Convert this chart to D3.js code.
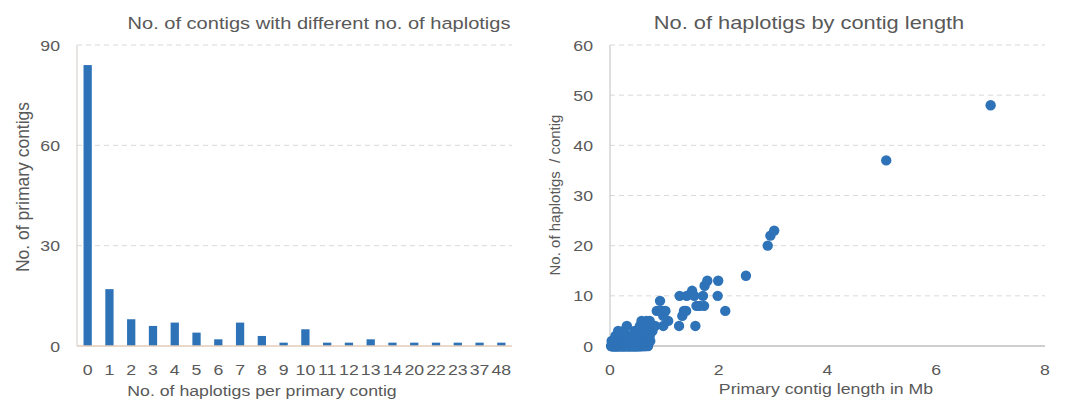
<!DOCTYPE html>
<html>
<head>
<meta charset="utf-8">
<script src="https://cdn.jsdelivr.net/npm/d3@7"></script>
<style>
  body { margin: 0; background: #fff; }
  svg { display: block; font-family: "Liberation Sans", Arial, sans-serif; }
</style>
</head>
<body>
<svg id="chart" width="1075" height="403"></svg>
<script>
// bar chart: how many primary contigs carry N haplotigs
const haplotigCounts = ["0","1","2","3","4","5","6","7","8","9","10","11","12","13","14","20","22","23","37","48"];
const contigCounts   = [84, 17, 8, 6, 7, 4, 2, 7, 3, 1, 5, 1, 1, 2, 1, 1, 1, 1, 1, 1];
const barTicks = [0, 30, 60, 90];

// scatter: contig lengths (Mb) grouped by their haplotig count (same order as haplotigCounts)
const contigLengths = [
  [0.02,0.03,0.04,0.05,0.06,0.07,0.08,0.09,0.10,0.11,0.12,0.13,0.14,0.15,0.16,0.17,0.18,0.19,0.20,0.21,
   0.22,0.23,0.24,0.25,0.26,0.27,0.28,0.29,0.30,0.31,0.32,0.33,0.34,0.35,0.36,0.37,0.38,0.39,0.40,0.41,
   0.42,0.43,0.44,0.45,0.46,0.47,0.48,0.49,0.50,0.51,0.52,0.53,0.54,0.55,0.56,0.57,0.58,0.60,0.62,0.64,
   0.05,0.08,0.11,0.14,0.18,0.22,0.26,0.30,0.34,0.38,0.42,0.46,0.50,0.03,0.06,0.09,0.12,0.15,0.20,0.25,
   0.35,0.45,0.66,0.70],
  [0.03,0.06,0.10,0.14,0.18,0.22,0.26,0.30,0.34,0.38,0.42,0.46,0.52,0.58,0.64,0.70,0.74],
  [0.10,0.18,0.25,0.33,0.45,0.55,0.66,0.73],
  [0.15,0.25,0.45,0.60,0.72,0.78],
  [0.31,0.55,0.68,0.83,0.98,1.27,1.57],
  [0.58,0.67,0.73,1.07],
  [0.98,1.33],
  [0.86,0.92,0.96,1.02,1.36,1.40,2.12],
  [1.59,1.65,1.73],
  [0.92],
  [1.28,1.41,1.55,1.71,1.98],
  [1.51],
  [1.74],
  [1.79,1.99],
  [2.50],
  [2.90],
  [2.95],
  [3.02],
  [5.08],
  [7.00]
];
const lengthTicks = [0, 2, 4, 6, 8];
const haplotigTicks = [0, 10, 20, 30, 40, 50, 60];

const blue = "#2e72b8";
const textGrey = "#595959";
const gridGrey = "#d9d9d9";
const stretch = 1.18; // the reference text is drawn a bit wide

const svg = d3.select("#chart");

// horizontal text, widened a little like the original figure
const wideText = (g, x, y, size, anchor, str) =>
  g.append("text")
    .attr("transform", `translate(${x},${y}) scale(${stretch},1)`)
    .attr("text-anchor", anchor)
    .attr("fill", textGrey)
    .attr("font-size", size)
    .text(str);

// ---------- left: bar chart ----------
const L = { left: 77, right: 512, top: 45, bottom: 346 };

const xBand = d3.scaleBand().domain(haplotigCounts).range([L.left, L.right]).paddingInner(0.62).paddingOuter(0.3);
const yBar = d3.scaleLinear().domain([0, 90]).range([L.bottom, L.top]);

const gl = svg.append("g");

gl.selectAll("line.grid")
  .data(barTicks.filter(t => t > 0))
  .join("line")
  .attr("x1", L.left).attr("x2", L.right)
  .attr("y1", d => yBar(d)).attr("y2", d => yBar(d))
  .attr("stroke", gridGrey).attr("stroke-dasharray", "5,4");

gl.append("line")
  .attr("x1", L.left).attr("x2", L.left)
  .attr("y1", L.top).attr("y2", L.bottom)
  .attr("stroke", "#cfcac4");

gl.selectAll("rect")
  .data(haplotigCounts.map((c, i) => ({ c, v: contigCounts[i] })))
  .join("rect")
  .attr("x", d => xBand(d.c))
  .attr("width", xBand.bandwidth())
  .attr("y", d => yBar(d.v))
  .attr("height", d => yBar(0) - yBar(d.v))
  .attr("fill", blue);

gl.append("line")
  .attr("x1", L.left).attr("x2", L.right)
  .attr("y1", L.bottom).attr("y2", L.bottom)
  .attr("stroke", "#e3cdb8").attr("stroke-width", 1.5);

barTicks.forEach(t => wideText(gl, 60, yBar(t) + 5.5, 15, "end", t));
haplotigCounts.forEach(c => wideText(gl, xBand(c) + xBand.bandwidth() / 2, 375, 15, "middle", c));

wideText(gl, 319, 29, 17, "middle", "No. of contigs with different no. of haplotigs");
wideText(gl, 262, 396, 15, "middle", "No. of haplotigs per primary contig");

gl.append("text")
  .attr("transform", "translate(29,187) rotate(-90)")
  .attr("text-anchor", "middle")
  .attr("fill", textGrey).attr("font-size", 17.5)
  .text("No. of primary contigs");

// ---------- right: scatter ----------
const R = { left: 610, right: 1045, top: 45, bottom: 346 };

const xLen = d3.scaleLinear().domain([0, 8]).range([R.left, R.right]);
const yHap = d3.scaleLinear().domain([0, 60]).range([R.bottom, R.top]);

const gr = svg.append("g");

gr.selectAll("line.grid")
  .data(haplotigTicks.filter(t => t > 0))
  .join("line")
  .attr("x1", R.left).attr("x2", R.right)
  .attr("y1", d => yHap(d)).attr("y2", d => yHap(d))
  .attr("stroke", gridGrey).attr("stroke-dasharray", "5,4");

gr.append("line")
  .attr("x1", R.left).attr("x2", R.left)
  .attr("y1", R.top).attr("y2", R.bottom)
  .attr("stroke", "#bfbfbf");

gr.append("line")
  .attr("x1", R.left).attr("x2", R.right)
  .attr("y1", R.bottom).attr("y2", R.bottom)
  .attr("stroke", "#bfbfbf").attr("stroke-width", 1.5);

const points = [];
contigLengths.forEach((lens, i) => {
  lens.forEach(len => points.push({ x: len, y: +haplotigCounts[i] }));
});

gr.selectAll("circle")
  .data(points)
  .join("circle")
  .attr("cx", d => xLen(d.x))
  .attr("cy", d => yHap(d.y))
  .attr("r", 5.2)
  .attr("fill", blue);

haplotigTicks.forEach(t => wideText(gr, 593, yHap(t) + 5.5, 15, "end", t));
lengthTicks.forEach(t => wideText(gr, xLen(t), 375, 15, "middle", t));

wideText(gr, 809, 29, 18.5, "middle", "No. of haplotigs by contig length");
wideText(gr, 826, 394, 15, "middle", "Primary contig length in Mb");

gr.append("text")
  .attr("transform", "translate(560,195) rotate(-90)")
  .attr("text-anchor", "middle")
  .attr("fill", textGrey).attr("font-size", 15)
  .style("white-space", "pre")
  .text("No. of haplotigs  / contig");
</script>
</body>
</html>
